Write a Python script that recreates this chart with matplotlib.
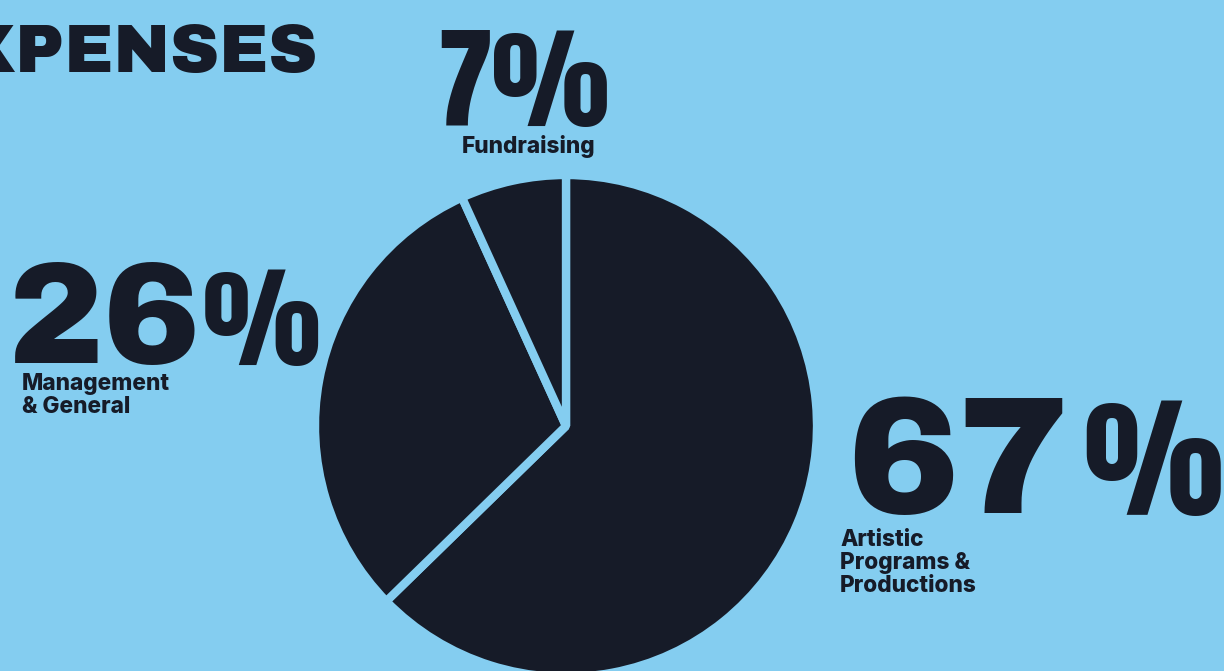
import matplotlib
matplotlib.use('Agg')
import matplotlib.pyplot as plt

# expense breakdown, label values as printed on the chart
categories = ['Artistic\nPrograms &\nProductions', 'Management\n& General', 'Fundraising']
pct_labels = ['67', '26', '7']
# slice sizes as drawn in the picture (measured from the wedge angles)
slice_share = [62.7, 30.5, 6.8]

bg = '#84cdf0'
navy = '#161b28'

W, H = 1224, 671
fig = plt.figure(figsize=(W / 100, H / 100), dpi=100, facecolor=bg)
ax = fig.add_axes([0, 0, 1, 1])
ax.set_aspect('equal')
ax.axis('off')

# pie, clockwise from 12 o'clock
ax.pie(slice_share, startangle=90, counterclock=False,
       center=(566, H - 426), radius=251,
       colors=[navy] * len(slice_share),
       wedgeprops=dict(edgecolor=bg, linewidth=6, joinstyle='bevel'))
ax.set_xlim(0, W)
ax.set_ylim(0, H)

wide = ['Archivo Black', 'DejaVu Sans']
narrow = ['Anton', 'Barlow Condensed', 'DejaVu Sans']
label_font = ['Inter', 'DejaVu Sans']

def y(v):
    # pixel rows from the top -> data coords
    return H - v

# title, cut at the left edge
ax.text(317, y(72), 'EXPENSES', ha='right', va='baseline',
        fontsize=49, family=wide, color=navy)

# 67% Artistic
ax.text(958, y(513), pct_labels[0], ha='center', va='baseline',
        fontsize=120, family=wide, color=navy)
ax.text(1153, y(515), '%', ha='center', va='baseline',
        fontsize=95, family=narrow, color=navy)
ax.text(840, y(592), categories[0], ha='left', va='baseline',
        fontsize=16.3, fontweight=800, family=label_font, color=navy,
        linespacing=1.05)

# 26% Management
ax.text(104, y(363), pct_labels[1], ha='center', va='baseline',
        fontsize=104, family=wide, color=navy)
ax.text(261, y(365), '%', ha='center', va='baseline',
        fontsize=80, family=narrow, color=navy)
ax.text(22, y(413), categories[1], ha='left', va='baseline',
        fontsize=16.3, fontweight=800, family=label_font, color=navy,
        linespacing=1.05)

# 7% Fundraising
ax.text(523, y(126), pct_labels[2] + '%', ha='center', va='baseline',
        fontsize=80, family=narrow, color=navy)
ax.text(462, y(153), categories[2], ha='left', va='baseline',
        fontsize=16.3, fontweight=800, family=label_font, color=navy)

fig.savefig('out.png', dpi=100, facecolor=bg)
